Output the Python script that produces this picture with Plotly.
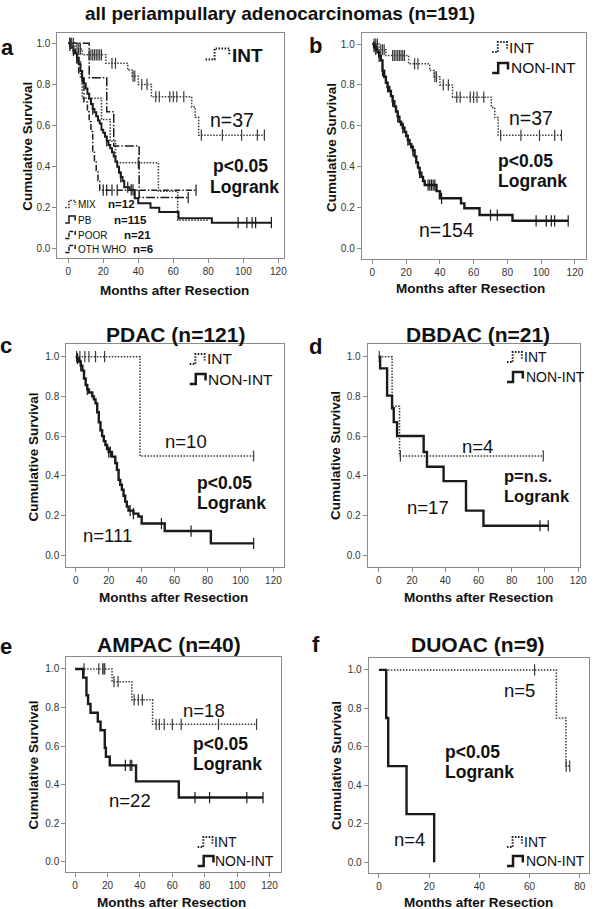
import plotly.graph_objects as go

W, H = 600, 909
FONT = "Arial, 'Liberation Sans', sans-serif"
DARK = "#1a1a1a"
DOT = "#3a3a3a"
FRAME = "#8a8a8a"
DOTDASH = "1.5px,1.5px"

# ---------------- data (months, cumulative survival) ----------------
# panel a/b: intestinal (INT, n=37)
INT_T = [0, 4, 8, 21.5, 34, 36.5, 40, 47.5, 70.5, 72.5, 74.5]
INT_S = [1.0, 0.972, 0.944, 0.903, 0.87, 0.84, 0.80, 0.74, 0.69, 0.64, 0.553]
INT_END = 112
INT_CENS = [1, 2, 3, 5, 6, 7, 12, 13, 14, 15, 16, 17, 18, 19, 25, 27, 37, 38, 42, 45,
            50, 52, 58, 60, 62, 66, 76, 88, 99, 108, 112]

# panel b: non-intestinal (n=154)
NON_T = [0, 1, 2, 3, 4, 5, 6, 7, 8, 9, 10, 11, 12, 13, 14, 15, 16, 17, 18, 19, 20, 21,
         22, 23, 24, 25, 26, 27, 28, 29, 30, 31, 38, 40, 52.5, 54.5, 63.5, 83]
NON_S = [1.0, 0.987, 0.974, 0.96, 0.94, 0.92, 0.87, 0.84, 0.81, 0.79, 0.77, 0.745, 0.72,
         0.695, 0.67, 0.645, 0.62, 0.605, 0.59, 0.57, 0.55, 0.53, 0.51, 0.495, 0.48, 0.45,
         0.42, 0.395, 0.37, 0.35, 0.33, 0.31, 0.28, 0.245, 0.22, 0.196, 0.163, 0.135]
NON_END = 116
NON_CENS = [1, 2, 4, 6, 9, 12, 15, 18, 21, 24, 28, 33, 34, 35, 36, 37, 41, 70, 74, 97,
            103, 106, 108, 116]

# panel a: other subtypes
MIX_T = [0, 6, 7, 8, 19, 24, 27, 51.5, 62.5]
MIX_S = [1.0, 0.917, 0.833, 0.733, 0.629, 0.524, 0.419, 0.28, 0.14]
MIX_END = 80
MIX_CENS = [1, 40]

PB_T = [0, 1, 2, 3, 4, 5, 6, 7, 8, 9, 10, 11, 12, 13, 14, 15, 16, 17, 18, 19, 20, 21, 22,
        23, 24, 25, 26, 27, 28, 29, 30, 31, 32, 35, 38, 40, 47, 52, 63, 82]
PB_S = [1.0, 0.99, 0.98, 0.965, 0.95, 0.93, 0.90, 0.865, 0.83, 0.805, 0.78, 0.755, 0.73,
        0.705, 0.68, 0.665, 0.645, 0.625, 0.61, 0.58, 0.565, 0.546, 0.525, 0.505, 0.49,
        0.47, 0.45, 0.425, 0.40, 0.37, 0.35, 0.33, 0.30, 0.287, 0.246, 0.222, 0.20, 0.18,
        0.149, 0.128]
PB_END = 116
PB_CENS = [1, 3, 5, 8, 14, 22, 30, 34, 36, 37, 97, 102, 105, 107, 116]

POOR_T = [0, 3, 5, 6, 8, 9, 11, 12, 13, 14, 15, 16, 17, 18]
POOR_S = [1.0, 0.952, 0.905, 0.857, 0.81, 0.714, 0.667, 0.619, 0.571, 0.476, 0.429,
          0.381, 0.333, 0.286]
POOR_END = 73
POOR_CENS = [1, 20, 22, 25, 28, 73]

OTH_T = [0, 12, 22, 26, 40.5]
OTH_S = [1.0, 0.833, 0.667, 0.5, 0.25]
OTH_END = 68.5
OTH_CENS = [68.5]

# panel c: PDAC
C_INT_T = [0, 39]
C_INT_S = [1.0, 0.5]
C_INT_END = 108
C_INT_CENS = [0.5, 2.5, 5.5, 8, 12, 17.5, 108]
C_NON_T = [0, 1, 2, 3, 4, 5, 6, 7, 8, 10, 11, 12, 13, 14, 15, 16, 17, 18, 19, 20, 22, 24,
           25, 26, 27, 28, 29, 30, 31, 32, 35, 38, 40, 54, 82]
C_NON_S = [1.0, 0.99, 0.975, 0.955, 0.93, 0.89, 0.857, 0.835, 0.82, 0.8, 0.785, 0.765,
           0.72, 0.67, 0.63, 0.6, 0.575, 0.555, 0.535, 0.52, 0.497, 0.465, 0.43, 0.38,
           0.355, 0.33, 0.30, 0.27, 0.245, 0.225, 0.21, 0.195, 0.16, 0.122, 0.06]
C_NON_END = 108
C_NON_CENS = [1, 3, 7, 20, 21, 33, 35, 52, 70, 108]

# panel d: DBDAC
D_INT_T = [0, 8, 12.5]
D_INT_S = [1.0, 0.75, 0.5]
D_INT_END = 99
D_INT_CENS = [0.3, 13, 99]
D_NON_T = [0, 0.8, 5, 8, 9, 11, 27, 29, 39, 52.5, 63]
D_NON_S = [1.0, 0.941, 0.804, 0.74, 0.67, 0.60, 0.52, 0.445, 0.373, 0.224, 0.148]
D_NON_END = 102
D_NON_CENS = [97, 102]

# panel e: AMPAC
E_INT_T = [0, 22.8, 35, 47.8]
E_INT_S = [1.0, 0.934, 0.84, 0.713]
E_INT_END = 112
E_INT_CENS = [5.5, 14.6, 17, 17.8, 18.3, 24, 26.5, 36.4, 39, 41.5, 50, 52, 55, 60, 65.5,
              88.5, 112]
E_NON_T = [0, 5, 7, 8, 9.5, 14, 15.7, 18.3, 19, 21.4, 37.6, 64]
E_NON_S = [1.0, 0.955, 0.864, 0.818, 0.773, 0.727, 0.682, 0.591, 0.545, 0.50, 0.417, 0.333]
E_NON_END = 116
E_NON_CENS = [31, 34, 35, 74, 83, 106, 116]

# panel f: DUOAC
F_INT_T = [0, 70.7, 74.5]
F_INT_S = [1.0, 0.75, 0.5]
F_INT_END = 76
F_INT_CENS = [62, 74.6, 76]
F_NON_T = [0, 2.9, 3.7, 11, 22]
F_NON_S = [1.0, 0.75, 0.5, 0.25, 0.0]
F_NON_END = 22
F_NON_CENS = []

Y_TICKS = [0.0, 0.2, 0.4, 0.6, 0.8, 1.0]
X_TICKS_120 = [0, 20, 40, 60, 80, 100, 120]
X_TICKS_80 = [0, 20, 40, 60, 80]

# ---------------- layout of panels (pixel frames) ----------------
PANELS = [
    dict(box=(58, 287, 33, 258), xr=(-6.2, 123.0), yr=(-0.044, 1.05), xt=X_TICKS_120),
    dict(box=(366, 593, 33, 259), xr=(-6.3, 126.6), yr=(-0.052, 1.054), xt=X_TICKS_120),
    dict(box=(67, 287, 344, 567), xr=(-5.8, 126.2), yr=(-0.059, 1.064), xt=X_TICKS_120),
    dict(box=(372, 587, 344, 567), xr=(-6.7, 121.2), yr=(-0.06, 1.064), xt=X_TICKS_120),
    dict(box=(67, 284, 657, 872), xr=(-5.5, 126.9), yr=(-0.053, 1.062), xt=X_TICKS_120),
    dict(box=(373, 596, 658, 873), xr=(-4.1, 83.7), yr=(-0.056, 1.062), xt=X_TICKS_80),
]

fig = go.Figure()
layout = {}
for i, p in enumerate(PANELS, start=1):
    x0, x1, y0, y1 = p["box"]
    sfx = "" if i == 1 else str(i)
    layout["xaxis" + sfx] = dict(
        domain=[x0 / W, x1 / W], range=list(p["xr"]), anchor="y" + sfx,
        tickvals=p["xt"], ticks="outside", ticklen=4, tickcolor=FRAME,
        showline=True, mirror=True, linecolor=FRAME, linewidth=1,
        showgrid=False, zeroline=False,
        tickfont=dict(family=FONT, size=10, color="#333"),
    )
    layout["yaxis" + sfx] = dict(
        domain=[1 - y1 / H, 1 - y0 / H], range=list(p["yr"]), anchor="x" + sfx,
        tickvals=Y_TICKS, tickformat=".1f", ticks="outside", ticklen=4, tickcolor=FRAME,
        showline=True, mirror=True, linecolor=FRAME, linewidth=1,
        showgrid=False, zeroline=False,
        tickfont=dict(family=FONT, size=10, color="#333"),
    )


def km(panel, t, s, end, cens, dash, width, color):
    sfx = "" if panel == 1 else str(panel)
    xs = list(t) + [end]
    ys = list(s) + [s[-1]]
    fig.add_trace(go.Scatter(x=xs, y=ys, mode="lines", line_shape="hv",
                             line=dict(color=color, width=width, dash=dash),
                             xaxis="x" + sfx, yaxis="y" + sfx, showlegend=False,
                             hoverinfo="skip"))
    if cens:
        cy = []
        for c in cens:
            v = s[0]
            for tt, ss in zip(t, s):
                if tt <= c:
                    v = ss
            cy.append(v)
        fig.add_trace(go.Scatter(x=cens, y=cy, mode="markers",
                                 marker=dict(symbol="line-ns", size=8,
                                             line=dict(color=color, width=1.2)),
                                 xaxis="x" + sfx, yaxis="y" + sfx, showlegend=False,
                                 hoverinfo="skip"))


# panel a
km(1, MIX_T, MIX_S, MIX_END, MIX_CENS, DOTDASH, 1.5, DOT)
km(1, POOR_T, POOR_S, POOR_END, POOR_CENS, "6px,2px,1.5px,2px", 1.5, DARK)
km(1, OTH_T, OTH_S, OTH_END, OTH_CENS, "9px,2px,1.5px,2px", 1.5, DARK)
km(1, PB_T, PB_S, PB_END, PB_CENS, "solid", 2.0, DARK)
km(1, INT_T, INT_S, INT_END, INT_CENS, DOTDASH, 1.5, DOT)
# panel b
km(2, INT_T, INT_S, INT_END, INT_CENS, DOTDASH, 1.5, DOT)
km(2, NON_T, NON_S, NON_END, NON_CENS, "solid", 2.4, DARK)
# panel c
km(3, C_INT_T, C_INT_S, C_INT_END, C_INT_CENS, DOTDASH, 1.5, DOT)
km(3, C_NON_T, C_NON_S, C_NON_END, C_NON_CENS, "solid", 2.4, DARK)
# panel d
km(4, D_INT_T, D_INT_S, D_INT_END, D_INT_CENS, DOTDASH, 1.5, DOT)
km(4, D_NON_T, D_NON_S, D_NON_END, D_NON_CENS, "solid", 2.4, DARK)
# panel e
km(5, E_INT_T, E_INT_S, E_INT_END, E_INT_CENS, DOTDASH, 1.5, DOT)
km(5, E_NON_T, E_NON_S, E_NON_END, E_NON_CENS, "solid", 2.4, DARK)
# panel f
km(6, F_INT_T, F_INT_S, F_INT_END, F_INT_CENS, DOTDASH, 1.5, DOT)
km(6, F_NON_T, F_NON_S, F_NON_END, F_NON_CENS, "solid", 2.4, DARK)

annotations = []
shapes = []


def txt(text, x, y, size, bold=False, xanchor="left", angle=0, color="#111"):
    t = f"<b>{text}</b>" if bold else text
    annotations.append(dict(text=t, x=x / W, y=1 - y / H, xref="paper", yref="paper",
                            xanchor=xanchor, yanchor="middle", showarrow=False,
                            textangle=angle,
                            font=dict(family=FONT, size=size, color=color)))


def P(x, y):
    return f"{x / W:.5f},{1 - y / H:.5f}"


def icon(x0, yc, w, h, dash, width):
    yb, yt = yc + h / 2, yc - h / 2
    path = (f"M {P(x0, yb)} L {P(x0 + 0.38 * w, yb)} L {P(x0 + 0.38 * w, yt)} "
            f"L {P(x0 + w, yt)} L {P(x0 + w, yc + h * 0.15)}")
    shapes.append(dict(type="path", path=path, xref="paper", yref="paper",
                       line=dict(color=DARK, width=width, dash=dash)))


# main title
txt("all periampullary adenocarcinomas (n=191)", 283, 13, 19, bold=True, xanchor="center")

# panel letters
for letter, x, y in [("a", 7.5, 47), ("b", 319, 45), ("c", 6, 345),
                     ("d", 319, 346), ("e", 6, 646), ("f", 320, 644)]:
    txt(letter, x, y, 22, bold=True, xanchor="center")

# panel titles
txt("PDAC (n=121)", 177.5, 334, 21, bold=True, xanchor="center")
txt("DBDAC (n=21)", 484, 334, 21, bold=True, xanchor="center")
txt("AMPAC (n=40)", 171, 644, 21, bold=True, xanchor="center")
txt("DUOAC (n=9)", 484, 644, 21, bold=True, xanchor="center")

# axis titles
for (yx, yy, xx, xy) in [(28, 146, 177, 290), (335, 148, 476, 288),
                         (33, 457, 176, 597), (340, 456, 484, 597),
                         (33, 765, 174, 902), (340, 766, 484, 902)]:
    txt("Cumulative Survival", yx, yy, 13.5, bold=True, xanchor="center", angle=-90)
    txt("Months after Resection", xx, xy, 13.5, bold=True, xanchor="center")

# panel a texts
icon(208, 54, 24, 11, DOTDASH, 2)
txt("INT", 233, 55, 19, bold=True)
txt("n=37", 210, 120, 19.5)
txt("p<0.05", 213, 166, 17.5, bold=True)
txt("Logrank", 210, 187, 17.5, bold=True)
for (lab, y, nx, ntxt, dash) in [("MIX", 204, 107, "n=12", DOTDASH),
                                 ("PB", 219.5, 113, "n=115", "solid"),
                                 ("POOR", 235, 123, "n=21", "4px,1.5px"),
                                 ("OTH WHO", 249, 133, "n=6", "4px,1.5px")]:
    icon(66, y, 10, 7, dash, 1.5)
    txt(lab, 77, y + 0.5, 10)
    txt(ntxt, nx, y, 11.5, bold=True)

# panel b
icon(498, 47, 15, 10, DOTDASH, 2)
txt("INT", 513, 47, 15.5)
icon(498, 68, 16, 10, "solid", 2.5)
txt("NON-INT", 515, 68, 15.5)
txt("n=37", 513, 118, 19.5)
txt("p<0.05", 502, 161, 17.5, bold=True)
txt("Logrank", 502, 181, 17.5, bold=True)
txt("n=154", 422, 230, 19.5)

# panel c
icon(192, 359, 15, 10, DOTDASH, 2)
txt("INT", 207, 359, 15.5)
icon(192, 379, 16, 10, "solid", 2.5)
txt("NON-INT", 208, 379, 15.5)
txt("n=10", 165, 441, 18.5)
txt("p<0.05", 197, 483, 17.5, bold=True)
txt("Logrank", 197, 503, 17.5, bold=True)
txt("n=111", 82, 535, 18.5)

# panel d
icon(513, 357, 15, 10, DOTDASH, 2)
txt("INT", 528, 357, 14)
icon(513, 377, 16, 10, "solid", 2.5)
txt("NON-INT", 530, 377, 14)
txt("n=4", 465, 446, 18.5)
txt("p=n.s.", 508, 476, 16.5, bold=True)
txt("Logrank", 508, 496, 16.5, bold=True)
txt("n=17", 410, 507, 18.5)

# panel e
txt("n=18", 183, 710, 18.5)
txt("p<0.05", 193, 744, 17.5, bold=True)
txt("Logrank", 193, 764, 17.5, bold=True)
txt("n=22", 108, 800, 18.5)
icon(200, 842, 15, 10, DOTDASH, 2)
txt("INT", 215, 842, 14)
icon(200, 861, 16, 10, "solid", 2.5)
txt("NON-INT", 216, 861, 14)

# panel f
txt("n=5", 508, 690, 18.5)
txt("p<0.05", 448, 752, 17.5, bold=True)
txt("Logrank", 448, 772, 17.5, bold=True)
txt("n=4", 397, 839, 18.5)
icon(513, 842, 15, 10, DOTDASH, 2)
txt("INT", 528, 842, 14)
icon(513, 861, 16, 10, "solid", 2.5)
txt("NON-INT", 530, 861, 14)

fig.update_layout(
    width=W, height=H, margin=dict(l=0, r=0, t=0, b=0),
    paper_bgcolor="white", plot_bgcolor="white",
    showlegend=False, annotations=annotations, shapes=shapes,
    font=dict(family=FONT), **layout,
)

fig.write_html("out.html", post_script="document.body.style.margin='0px';",
               config={"displayModeBar": False})
